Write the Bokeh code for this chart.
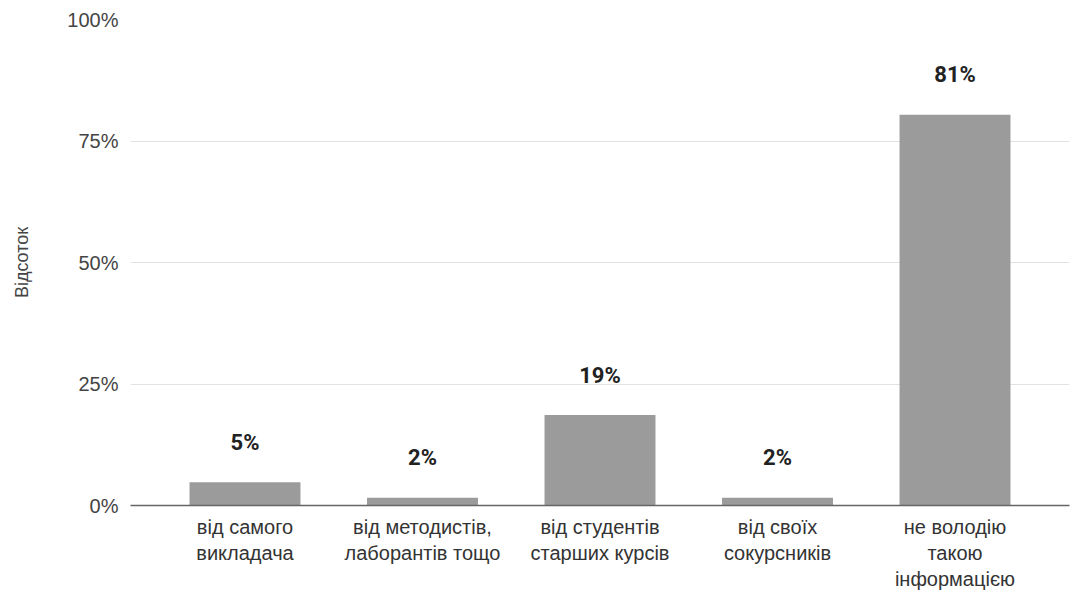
from bokeh.plotting import figure
from bokeh.models import FactorRange, Range1d, FixedTicker, ColumnDataSource
from bokeh.embed import file_html
from bokeh.resources import INLINE
from bokeh.core.properties import value

categories = [
    "від самого\nвикладача",
    "від методистів,\nлаборантів тощо",
    "від студентів\nстарших курсів",
    "від своїх\nсокурсників",
    "не володію\nтакою\nінформацією",
]
values = [4.8, 1.6, 18.6, 1.6, 80.4]
value_labels = ["5%", "2%", "19%", "2%", "81%"]
y_ticks = [0, 25, 50, 75, 100]
y_tick_labels = ["0%", "25%", "50%", "75%", "100%"]

src = ColumnDataSource(dict(cat=categories, val=values, lab=value_labels))

p = figure(
    width=1079, height=593,
    x_range=FactorRange(factors=categories, range_padding=0.058),
    y_range=Range1d(0, 100),
    output_backend="svg", toolbar_location=None,
    min_border_left=130, min_border_right=10, min_border_top=19, min_border_bottom=86,
)
p.outline_line_color = None
p.background_fill_color = "white"

p.vbar(x="cat", top="val", width=0.625, source=src, fill_color="#9b9b9b", line_color=None)
p.text(x="cat", y="val", text="lab", source=src, y_offset=-40,
       text_align="center", text_baseline="middle",
       text_font=value("Roboto"), text_font_style="bold", text_font_size="22px",
       text_color="#222222")

p.xgrid.grid_line_color = None
p.ygrid.grid_line_color = "#e2e2e2"
p.ygrid.grid_line_width = 1
p.ygrid.ticker = FixedTicker(ticks=y_ticks)

yax = p.yaxis[0]
yax.ticker = FixedTicker(ticks=y_ticks)
yax.major_label_overrides = {t: l for t, l in zip(y_ticks, y_tick_labels)}
yax.axis_line_color = None
yax.major_tick_line_color = None
yax.minor_tick_line_color = None
yax.major_tick_out = 0
yax.major_tick_in = 0
yax.major_label_standoff = 12
yax.major_label_text_font = "Liberation Sans"
yax.major_label_text_font_size = "20px"
yax.major_label_text_color = "#444444"
yax.axis_label = "Відсоток"
yax.axis_label_text_font = "Liberation Sans"
yax.axis_label_text_font_style = "normal"
yax.axis_label_text_font_size = "18px"
yax.axis_label_text_color = "#444444"
yax.axis_label_standoff = 32

xax = p.xaxis[0]
xax.axis_line_color = "#666666"
xax.axis_line_width = 1.5
xax.major_tick_line_color = None
xax.minor_tick_line_color = None
xax.major_tick_out = 0
xax.major_tick_in = 0
xax.major_label_standoff = 10
xax.major_label_text_font = "Liberation Sans"
xax.major_label_text_font_size = "20px"
xax.major_label_text_color = "#333333"
xax.major_label_text_line_height = 1.2

open("out.html", "w").write(file_html(p, INLINE))
